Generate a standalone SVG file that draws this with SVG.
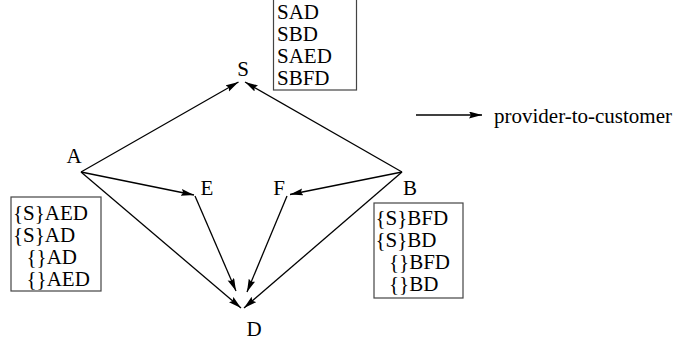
<svg xmlns="http://www.w3.org/2000/svg" width="676" height="347" viewBox="0 0 676 347">
<style>
text{font-family:'Liberation Serif','DejaVu Serif',serif;font-size:21px;fill:#000}
.lbl{text-anchor:middle}
.box{fill:none;stroke:#444;stroke-width:1.2}
.edge{stroke:#000;stroke-width:1.3;fill:none;marker-end:url(#ah)}
</style>
<defs>
<marker id="ah" markerUnits="userSpaceOnUse" markerWidth="14" markerHeight="8" refX="13" refY="3.5" orient="auto">
<path d="M0,0 L13,3.5 L0,7 L2,3.5 z" fill="#000"/>
</marker>
</defs>
<rect width="676" height="347" fill="#fff"/>
<g id="connectors">
<line class="edge" x1="81" y1="172" x2="238.5" y2="82"/>
<line class="edge" x1="81" y1="172" x2="194" y2="195"/>
<line class="edge" x1="81" y1="172" x2="241" y2="308"/>
<line class="edge" x1="195" y1="196" x2="236" y2="291"/>
<line class="edge" x1="287" y1="196" x2="247" y2="292"/>
<line class="edge" x1="402" y1="172" x2="244" y2="308"/>
<line class="edge" x1="402" y1="172" x2="290" y2="194.5"/>
<line class="edge" x1="402" y1="172" x2="245" y2="82"/>
</g>
<g id="node-S"><text class="lbl" x="243" y="76" font-family="Liberation Serif">S</text></g>
<g id="node-A"><text class="lbl" x="74" y="163" font-family="Liberation Serif">A</text></g>
<g id="node-E"><text class="lbl" x="207" y="195" font-family="Liberation Serif">E</text></g>
<g id="node-F"><text class="lbl" x="279" y="195" font-family="Liberation Serif">F</text></g>
<g id="node-B"><text class="lbl" x="410" y="195" font-family="Liberation Serif">B</text></g>
<g id="node-D"><text class="lbl" x="254" y="336" font-family="Liberation Serif">D</text></g>
<g id="box-S" font-family="Liberation Serif">
<rect class="box" x="273.5" y="-2" width="83" height="92"/>
<text x="277" y="18.5">SAD</text>
<text x="277" y="41">SBD</text>
<text x="277" y="63">SAED</text>
<text x="277" y="85">SBFD</text>
</g>
<g id="box-A">
<rect class="box" x="11" y="197" width="90" height="94"/>
<text x="13" y="220">{S}AED</text>
<text x="13" y="242">{S}AD</text>
<text x="26.5" y="264">{}AD</text>
<text x="26.5" y="286">{}AED</text>
</g>
<g id="box-B">
<rect class="box" x="374" y="203" width="89" height="95"/>
<text x="375.5" y="225">{S}BFD</text>
<text x="375.5" y="247">{S}BD</text>
<text x="389" y="269">{}BFD</text>
<text x="389" y="291">{}BD</text>
</g>
<g id="legend">
<line class="edge" x1="416" y1="115" x2="482" y2="115"/>
<text x="494" y="123">provider-to-customer</text>
</g>
</svg>
